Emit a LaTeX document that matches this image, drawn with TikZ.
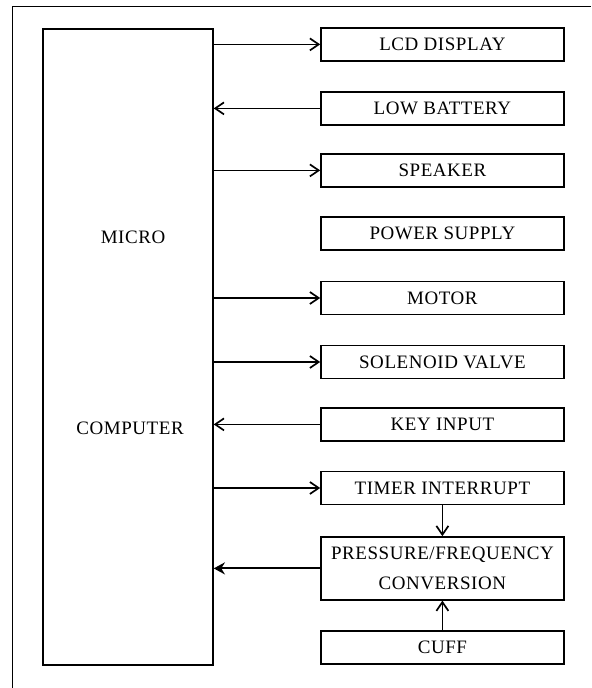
\documentclass[tikz,border=0pt]{standalone}
\usepackage{fontspec}
\setmainfont{Liberation Serif}
\newfontfamily\diafont[LetterSpace=3]{Liberation Serif}
\usepackage{tikz}
\usetikzlibrary{arrows.meta, positioning}

\begin{document}
\begin{tikzpicture}[
  lbl/.style={font=\diafont\fontsize{13.5}{21}\selectfont, inner sep=0pt},
  blk/.style={rectangle, draw=black, line width=1pt, lbl,
    minimum width=6.075cm, minimum height=0.825cm, align=center},
  tall/.style={blk, minimum height=1.575cm},
  arr/.style={-{Straight Barb[length=2.2mm,width=3mm]}, line width=1.2pt},
  arrb/.style={-{Stealth[length=2.8mm,width=3mm]}, line width=1.3pt}
]
\useasboundingbox (0,0) rectangle (14.775,17.2);

%% outer frame (cut by the page at right and bottom)
\draw[line width=0.8pt] (0.31,0) -- (0.31,17.03) -- (14.775,17.03);

%% micro computer
\node[draw, line width=1pt, minimum width=4.25cm, minimum height=15.9cm] (micro) at (3.2, 8.525) {};
\node[lbl] (microlbl) at (3.325, 11.275) {MICRO};
\node[lbl] (complbl)  at (3.25,  6.5)    {COMPUTER};

%% peripheral blocks
\node[blk]  (lcd)     at (11.06, 16.09) {LCD DISPLAY};
\node[blk]  (lowbat)  at (11.06, 14.49) {LOW BATTERY};
\node[blk]  (speaker) at (11.06, 12.94) {SPEAKER};
\node[blk]  (power)   at (11.06, 11.36) {POWER SUPPLY};
\node[blk]  (motor)   at (11.06,  9.75) {MOTOR};
\node[blk]  (valve)   at (11.06,  8.15) {SOLENOID VALVE};
\node[blk]  (keyin)   at (11.06,  6.59) {KEY INPUT};
\node[blk]  (timer)   at (11.06,  5.00) {TIMER INTERRUPT};
\node[tall] (pfconv)  at (11.06,  2.99) {PRESSURE/FREQUENCY\\CONVERSION};
\node[blk]  (cuff)    at (11.06,  1.01) {CUFF};

%% micro -> blocks
\draw[arr] (micro.east |- lcd)     -- (lcd.west);
\draw[arr] (micro.east |- speaker) -- (speaker.west);
\draw[arr] (micro.east |- motor)   -- (motor.west);
\draw[arr] (micro.east |- valve)   -- (valve.west);
\draw[arr] (micro.east |- timer)   -- (timer.west);

%% blocks -> micro
\draw[arr]  (lowbat.west) -- (micro.east |- lowbat);
\draw[arr]  (keyin.west)  -- (micro.east |- keyin);
\draw[arrb] (pfconv.west) -- (micro.east |- pfconv);

%% timer / cuff -> conversion
\draw[arr] (timer.south) -- (pfconv.north);
\draw[arr] (cuff.north)  -- (pfconv.south);

\end{tikzpicture}
\end{document}
